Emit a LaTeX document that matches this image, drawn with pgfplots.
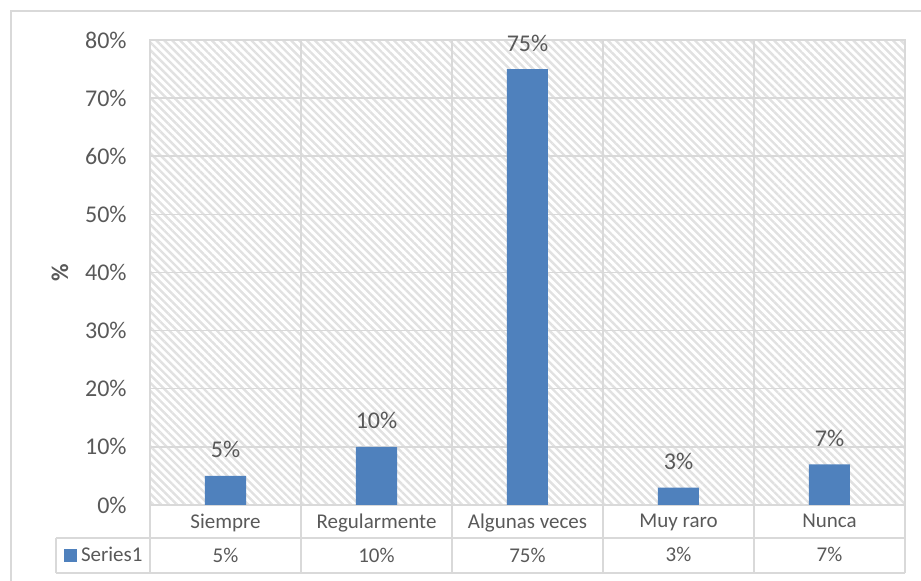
\documentclass[border=0pt]{standalone}
\usepackage{fontspec}
\setmainfont{Carlito}
\usepackage{pgfplots}
\usepackage{pgfplotstable}
\pgfplotsset{compat=1.18}
\usetikzlibrary{patterns.meta}
\definecolor{barblue}{HTML}{4F81BD}
\definecolor{gridgray}{HTML}{D9D9D9}
\definecolor{txtgray}{HTML}{595959}
\pgfplotstableread{
x y
0 5
1 10
2 75
3 3
4 7
}\datatable

\begin{document}
\begin{tikzpicture}
\useasboundingbox (0,0) rectangle (460.5pt,-290.5pt);
\draw[gridgray, line width=0.75pt] (5.5pt,-291pt) -- (5.5pt,-5.5pt) -- (461pt,-5.5pt);
\begin{axis}[
  at={(75pt,-252.5pt)}, anchor=south west,
  scale only axis, width=377.5pt, height=232.5pt,
  xmin=-0.5, xmax=4.5, ymin=0, ymax=80,
  axis background/.style={pattern={Lines[angle=-45,distance=2.8pt,line width=1.2pt]}, pattern color=gridgray!80},
  axis line style={gridgray, line width=0.75pt},
  xtick={0,...,4},
  xticklabels={{Siempre\\5\%},{Regularmente\\10\%},{Algunas veces\\75\%},{Muy raro\\3\%},{Nunca\\7\%}},
  xticklabel style={align=center, font=\fontsize{10.5}{17}\selectfont, text=txtgray, anchor=north, inner sep=0pt, yshift=-4.5pt},
  major tick length=0pt, minor tick length=0pt,
  minor xtick={0.5,1.5,2.5,3.5},
  xminorgrids, ymajorgrids,
  grid style={gridgray, line width=0.75pt},
  minor grid style={gridgray, line width=0.75pt},
  ytick={0,10,...,80},
  yticklabel={\pgfmathprintnumber{\tick}\%},
  yticklabel style={font=\fontsize{12}{14}\selectfont, text=txtgray, anchor=east, inner sep=0pt, xshift=-11.5pt},
  /pgf/number format/assume math mode=true,
  ylabel={\%},
  every axis y label/.style={at={(axis description cs:-0.1192,0.5)}, rotate=90, anchor=center, font=\bfseries\fontsize{12}{14}\selectfont, text=txtgray},
  clip=false,
  legend style={at={(axis description cs:-0.1139,-0.1086)}, anchor=west, draw=none, fill=none, inner sep=0pt, outer sep=0pt, font=\fontsize{10.5}{12}\selectfont, text=txtgray},
  legend image code/.code={\fill[barblue] (0pt,-3.25pt) rectangle (6.5pt,3.25pt);},
  nodes near coords={\pgfmathprintnumber{\pgfplotspointmeta}\%},
  nodes near coords style={font=\fontsize{12}{14}\selectfont, text=txtgray, anchor=base, inner sep=0pt, yshift=9pt},
]
\addplot[ybar, bar width=20.5pt, fill=barblue, draw=none] table[x=x,y=y]{\datatable};
\addlegendentry{Series1}
\end{axis}
\begin{scope}[gridgray, line width=0.75pt]
\draw (28pt,-269pt) -- (452.5pt,-269pt);
\draw (28pt,-286.5pt) -- (452.5pt,-286.5pt);
\draw (28pt,-269pt) -- (28pt,-286.5pt);
\foreach \xx in {75,150.5,226,301.5,377,452.5} {\draw (\xx pt,-252.5pt) -- (\xx pt,-286.5pt);}
\end{scope}
\end{tikzpicture}
\end{document}
